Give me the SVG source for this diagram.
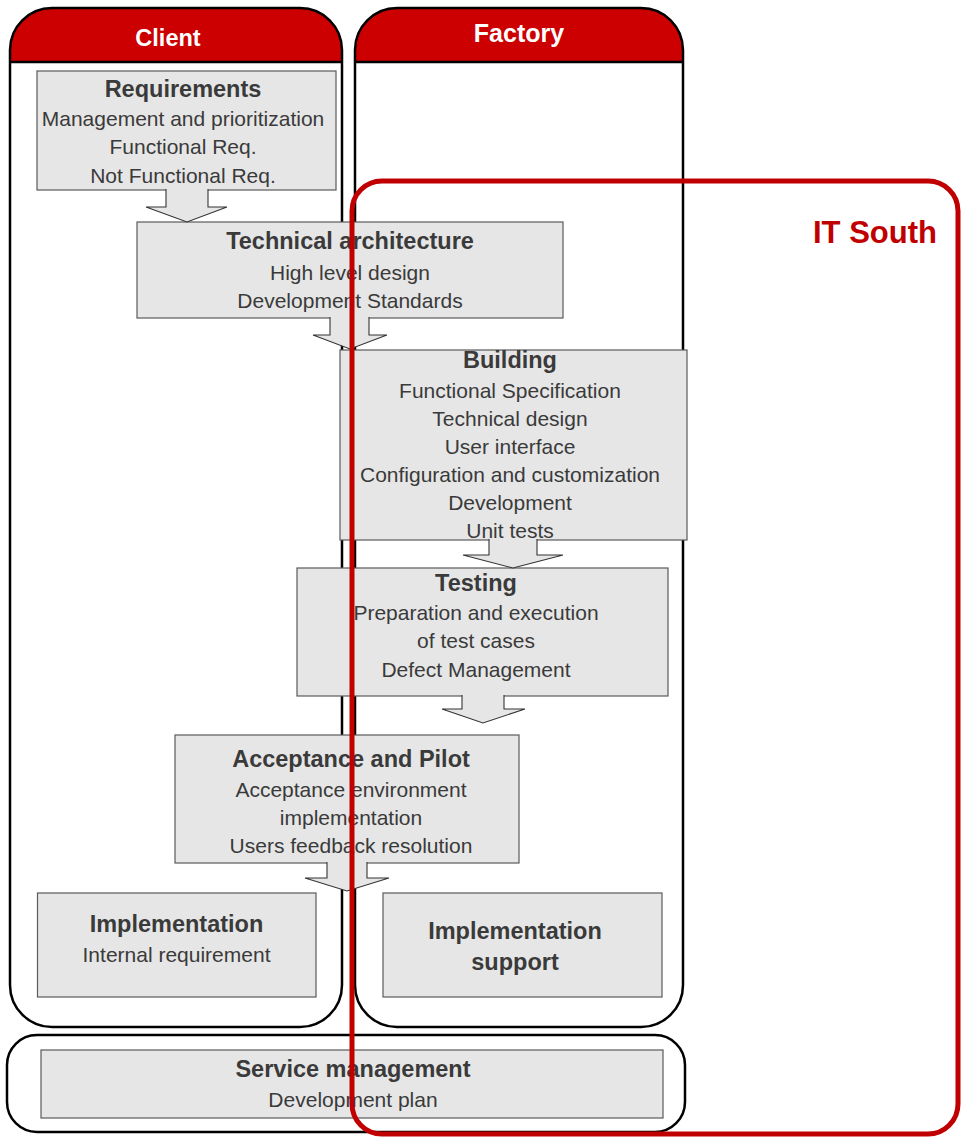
<svg xmlns="http://www.w3.org/2000/svg" width="963" height="1139" viewBox="0 0 963 1139">
  <style>
    .lane-bg { fill: #ffffff; stroke: none; }
    .lane-border { fill: none; stroke: #000000; stroke-width: 2.5; }
    .lane-head { fill: #cc0000; stroke: none; }
    .lane-title { font-family: "Liberation Sans", Arial, sans-serif; font-weight: bold; fill: #ffffff; text-anchor: middle; }
    .box { fill: #e6e6e6; stroke: #5a5a5a; stroke-width: 1.2; }
    .title { font-family: "Liberation Sans", Arial, sans-serif; font-weight: bold; font-size: 23.5px; fill: #3a3a3a; text-anchor: middle; }
    .line { font-family: "Liberation Sans", Arial, sans-serif; font-size: 21px; fill: #3a3a3a; text-anchor: middle; }
    .flow { fill: #e6e6e6; stroke: #333333; stroke-width: 1.1; stroke-linejoin: miter; }
    .zone { fill: none; stroke: #c00000; stroke-width: 5; }
    .zone-label { font-family: "Liberation Sans", Arial, sans-serif; font-weight: bold; font-size: 31px; fill: #c00000; text-anchor: middle; }
  </style>

  <!-- Swimlane: Client -->
  <g id="lane-client">
    <rect class="lane-bg" x="10" y="8" width="332" height="1019" rx="42" ry="42"/>
    <path class="lane-head" d="M10,62 V50 A42,42 0 0 1 52,8 H300 A42,42 0 0 1 342,50 V62 Z"/>
    <line x1="10" y1="62" x2="342" y2="62" stroke="#000" stroke-width="2.5"/>
    <rect class="lane-border" x="10" y="8" width="332" height="1019" rx="42" ry="42"/>
    <text class="lane-title" x="168" y="46" font-size="23.5">Client</text>
  </g>

  <!-- Swimlane: Factory -->
  <g id="lane-factory">
    <rect class="lane-bg" x="355" y="8" width="328" height="1019" rx="42" ry="42"/>
    <path class="lane-head" d="M355,62 V50 A42,42 0 0 1 397,8 H641 A42,42 0 0 1 683,50 V62 Z"/>
    <line x1="355" y1="62" x2="683" y2="62" stroke="#000" stroke-width="2.5"/>
    <rect class="lane-border" x="355" y="8" width="328" height="1019" rx="42" ry="42"/>
    <text class="lane-title" x="519" y="42" font-size="25">Factory</text>
  </g>

  <!-- Band: service management -->
  <g id="lane-service">
    <rect x="7" y="1035" width="678" height="97" rx="30" ry="30" fill="#ffffff" stroke="#000" stroke-width="2.5"/>
  </g>

  <!-- Process steps -->
  <g id="node-requirements">
    <rect class="box" x="37" y="71" width="299" height="119"/>
    <text class="title" x="183" y="97">Requirements</text>
    <text class="line" x="183" y="126">Management and prioritization</text>
    <text class="line" x="183" y="154">Functional Req.</text>
    <text class="line" x="183" y="183">Not Functional Req.</text>
  </g>

  <g id="node-architecture">
    <rect class="box" x="137" y="222" width="426" height="96"/>
    <text class="title" x="350" y="249">Technical architecture</text>
    <text class="line" x="350" y="280">High level design</text>
    <text class="line" x="350" y="308">Development Standards</text>
  </g>

  <g id="node-building">
    <rect class="box" x="340" y="350" width="347" height="190"/>
    <text class="title" x="510" y="368">Building</text>
    <text class="line" x="510" y="398">Functional Specification</text>
    <text class="line" x="510" y="426">Technical design</text>
    <text class="line" x="510" y="454">User interface</text>
    <text class="line" x="510" y="482">Configuration and customization</text>
    <text class="line" x="510" y="510">Development</text>
    <text class="line" x="510" y="538">Unit tests</text>
  </g>

  <g id="node-testing">
    <rect class="box" x="297" y="568" width="371" height="128"/>
    <text class="title" x="476" y="591">Testing</text>
    <text class="line" x="476" y="620">Preparation and execution</text>
    <text class="line" x="476" y="648">of test cases</text>
    <text class="line" x="476" y="677">Defect Management</text>
  </g>

  <g id="node-acceptance">
    <rect class="box" x="175" y="735" width="344" height="128"/>
    <text class="title" x="351" y="767">Acceptance and Pilot</text>
    <text class="line" x="351" y="797">Acceptance environment</text>
    <text class="line" x="351" y="825">implementation</text>
    <text class="line" x="351" y="853">Users feedback resolution</text>
  </g>

  <g id="node-implementation">
    <rect class="box" x="37.5" y="893" width="278.5" height="104"/>
    <text class="title" x="176.5" y="932">Implementation</text>
    <text class="line" x="176.5" y="962">Internal requirement</text>
  </g>

  <g id="node-implementation-support">
    <rect class="box" x="383" y="893" width="279" height="104"/>
    <text class="title" x="515" y="939">Implementation</text>
    <text class="title" x="515" y="970">support</text>
  </g>

  <g id="node-service">
    <rect class="box" x="41" y="1050" width="622" height="68"/>
    <text class="title" x="353" y="1077">Service management</text>
    <text class="line" x="353" y="1107">Development plan</text>
  </g>

  <!-- Block arrows between steps (open at the top so they merge into the source box) -->
  <g id="connectors">
    <path class="flow" d="M166,189 V207 H146 L187,222 L227,207 H208 V189"/>
    <path class="flow" d="M330,317 V335 H313 L350,349 L387,335 H369 V317"/>
    <path class="flow" d="M489,539 V555 H463 L513,568 L563,555 H537 V539"/>
    <path class="flow" d="M462,695 V709 H442 L483,723 L525,709 H504 V695"/>
    <path class="flow" d="M327,862 V878 H305 L347,891 L389,878 H367 V862"/>
  </g>

  <!-- Organisational boundary -->
  <g id="zone-it-south">
    <rect class="zone" x="352" y="181" width="606" height="953" rx="30" ry="30"/>
    <text class="zone-label" x="875" y="243">IT South</text>
  </g>
</svg>
